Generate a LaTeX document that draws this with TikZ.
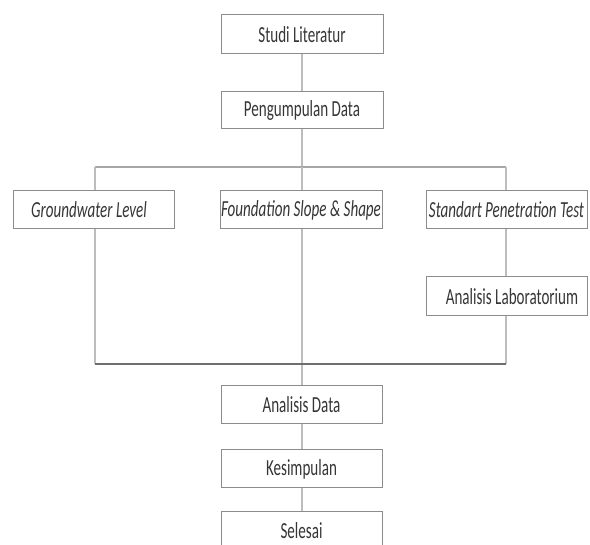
\documentclass[tikz,border=0pt]{standalone}
\usepackage{fontspec}
\setmainfont{Carlito}
\newcommand\narrowtxt[1]{\scalebox{0.655}[1]{#1}}
\begin{document}
\begin{tikzpicture}[x=1pt,y=-1pt,
  box/.style={draw=boxgray, line width=1pt, fill=white, minimum width=161pt, minimum height=38pt, inner sep=0pt, text=textgray, font=\fontsize{23}{25}\selectfont},
  itbox/.style={box, font=\fontsize{23}{25}\selectfont\itshape},
  conn/.style={draw=linegray, line width=1.1pt},
  bar/.style={draw=bargray, line width=1.1pt}]
\definecolor{boxgray}{HTML}{8C8C8C}
\definecolor{linegray}{HTML}{BDBDBD}
\definecolor{bargray}{HTML}{A6A6A6}
\definecolor{darkbar}{HTML}{6E6E6E}
\definecolor{textgray}{HTML}{363636}
\useasboundingbox (0,0) rectangle (590,545);
\clip (0,0) rectangle (590,545);
% coordinates of the bars
\coordinate (tl) at (95,167);
\coordinate (tm) at (302,167);
\coordinate (tr) at (506,167);
\coordinate (bl) at (95,364);
\coordinate (bm) at (302,364);
\coordinate (br) at (506,364);
% connectors (drawn first, boxes on top)
\draw[conn] (302,34) -- (302,110);
\draw[conn] (302,110) -- (tm);
\draw[bar] (tl) -- (tr);
\draw[conn] (tl) -- (95,210);
\draw[conn] (tm) -- (302,210);
\draw[conn] (tr) -- (506,210);
\draw[conn] (95,210) -- (bl);
\draw[conn] (302,210) -- (302,405);
\draw[conn] (506,210) -- (br);
\draw[draw=darkbar, line width=1.1pt] (bl) -- (br);
\draw[conn] (302,405) -- (302,531);
% boxes
\node[box, minimum width=162pt, minimum height=39pt] (studi) at (302,34.5) {\narrowtxt{Studi Literatur}};
\node[box, minimum width=162pt, minimum height=37pt] (kumpul) at (302,110.5) {\narrowtxt{Pengumpulan Data}};
\node[itbox] (ground) at (93.5,210) {\narrowtxt{Groundwater Level}\hspace*{9pt}};
\node[itbox, minimum width=162pt] (found) at (301,210) {\narrowtxt{Foundation Slope \& Shape}};
\node[itbox] (spt) at (506.5,210) {\narrowtxt{Standart Penetration Test}};
\node[box, minimum height=39pt] (lab) at (506.5,296.5) {\hspace*{11pt}\narrowtxt{Analisis Laboratorium}};
\node[box] (adata) at (301.5,405) {\narrowtxt{Analisis Data}};
\node[box] (kesim) at (301.5,469) {\narrowtxt{Kesimpulan}};
\node[box] (selesai) at (301.5,531) {\narrowtxt{Selesai}};
\end{tikzpicture}
\end{document}
